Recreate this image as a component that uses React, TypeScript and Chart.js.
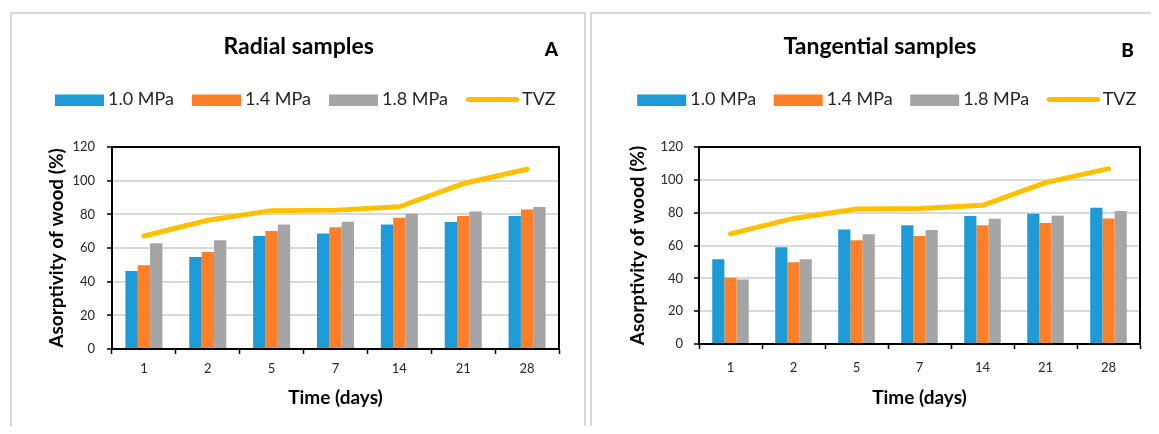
import React, { useEffect, useRef } from 'react';
import { Chart, registerables } from 'chart.js';

Chart.register(...registerables);

// ---- data ----
const days = ['1', '2', '5', '7', '14', '21', '28'];
const seriesNames = ['1.0 MPa', '1.4 MPa', '1.8 MPa', 'TVZ'];

const radial10 = [46.4, 54.7, 67.1, 68.6, 74.0, 75.4, 79.0];
const radial14 = [49.8, 57.6, 70.1, 72.4, 78.0, 79.0, 82.9];
const radial18 = [62.8, 64.6, 74.0, 75.6, 80.4, 81.7, 84.3];

const tangential10 = [51.6, 58.9, 69.8, 72.3, 77.9, 79.4, 83.0];
const tangential14 = [40.3, 49.8, 63.2, 65.8, 72.3, 73.7, 76.5];
const tangential18 = [39.3, 51.6, 66.8, 69.4, 76.3, 78.1, 81.0];

const tvzValues = [67.1, 76.5, 82.2, 82.5, 84.5, 98.3, 106.8];

const yMin = 0;
const yMax = 120;
const yStep = 20;

const COLORS = ['#1e9bd7', '#fd7f28', '#a5a5a5', '#ffc000'];
const FONT = 'Lato, "Open Sans", sans-serif';

type Geom = {
  w: number;
  h: number;
  pad: { top: number; left: number; right: number; bottom: number };
  yWidth: number;
  xHeight: number;
  yTickPad: number;
  xTickPad: number;
  yTitlePad: number;
  titleX: number;
  letterX: number;
  letterY: number;
  legendX: number;
  legendPitch: number;
};

function ChartPanel(props: {
  title: string;
  letter: string;
  bars: number[][];
  tvz: number[];
  geom: Geom;
}) {
  const ref = useRef<HTMLCanvasElement | null>(null);
  const { title, letter, bars, tvz, geom: g } = props;

  useEffect(() => {
    if (!ref.current) return;
    const overlay = {
      id: 'overlay',
      afterDraw(chart: any) {
        const ctx = chart.ctx as CanvasRenderingContext2D;
        const a = chart.chartArea;
        ctx.save();
        // plot area frame
        ctx.strokeStyle = '#000';
        ctx.lineWidth = 2;
        ctx.strokeRect(a.left, a.top, a.right - a.left, a.bottom - a.top);
        // title
        ctx.fillStyle = '#000';
        ctx.textBaseline = 'alphabetic';
        ctx.textAlign = 'center';
        ctx.font = `bold 23px ${FONT}`;
        ctx.fillText(title, g.titleX, 40);
        ctx.font = `900 19px ${FONT}`;
        ctx.fillText(letter, g.letterX, g.letterY);
        // legend
        ctx.textAlign = 'left';
        ctx.font = `18px ${FONT}`;
        const dsets = chart.data.datasets;
        for (let i = 0; i < dsets.length; i++) {
          const x = g.legendX + i * g.legendPitch;
          const ds = dsets[i];
          if (ds.type === 'line') {
            ctx.strokeStyle = ds.borderColor;
            ctx.lineWidth = 5;
            ctx.lineCap = 'round';
            ctx.beginPath();
            ctx.moveTo(x + 2.5, 85.5);
            ctx.lineTo(x + 51, 85.5);
            ctx.stroke();
            ctx.fillStyle = '#262626';
            ctx.fillText(ds.label, x + 56, 91);
          } else {
            ctx.fillStyle = ds.backgroundColor;
            ctx.fillRect(x, 80.5, 49, 11.5);
            ctx.fillStyle = '#262626';
            ctx.fillText(ds.label, x + 53, 91);
          }
        }
        ctx.restore();
      },
    };

    const chart = new Chart(ref.current, {
      type: 'bar',
      data: {
        labels: days,
        datasets: [
          ...bars.map((vals, i) => ({
            type: 'bar' as const,
            label: seriesNames[i],
            data: vals,
            backgroundColor: COLORS[i],
            borderWidth: 0,
            categoryPercentage: 0.58,
            barPercentage: 1.0,
            order: 1,
          })),
          {
            type: 'line' as const,
            label: seriesNames[3],
            data: tvz,
            borderColor: COLORS[3],
            backgroundColor: COLORS[3],
            borderWidth: 5,
            borderCapStyle: 'round',
            borderJoinStyle: 'round',
            pointRadius: 0,
            tension: 0,
            fill: false,
            order: 0,
          } as any,
        ],
      },
      options: {
        animation: false,
        responsive: false,
        maintainAspectRatio: false,
        layout: { padding: g.pad },
        plugins: {
          legend: { display: false },
          title: { display: false },
          tooltip: { enabled: false },
        },
        scales: {
          x: {
            offset: true,
            grid: {
              offset: true,
              drawOnChartArea: false,
              drawTicks: true,
              tickLength: 5,
              tickColor: '#000',
              tickWidth: 1.5,
            },
            border: { display: true, color: '#000', width: 2 },
            ticks: {
              color: '#262626',
              padding: g.xTickPad,
              font: { family: FONT, size: 13 },
              maxRotation: 0,
            },
            title: {
              display: true,
              text: 'Time (days)',
              color: '#000',
              font: { family: FONT, size: 19, weight: 'bold' },
              padding: { top: 0, bottom: 0 },
            },
            afterFit: (s: any) => {
              s.height = g.xHeight;
            },
          },
          y: {
            min: yMin,
            max: yMax,
            ticks: {
              stepSize: yStep,
              color: '#262626',
              padding: g.yTickPad,
              font: { family: FONT, size: 13 },
            },
            grid: {
              color: '#d9d9d9',
              lineWidth: 2,
              drawTicks: true,
              tickLength: 5,
              tickColor: '#000',
              tickWidth: 1.5,
            },
            border: { display: true, color: '#000', width: 2 },
            title: {
              display: true,
              text: 'Asorptivity of wood (%)',
              color: '#000',
              font: { family: FONT, size: 19, weight: 'bold' },
              padding: { top: g.yTitlePad, bottom: 0 },
            },
            afterFit: (s: any) => {
              s.width = g.yWidth;
            },
          },
        },
      },
      plugins: [overlay],
    });
    return () => chart.destroy();
  }, []);

  return (
    <canvas
      ref={ref}
      width={g.w}
      height={g.h}
      style={{ position: 'absolute', left: 0, top: 0, width: g.w, height: g.h }}
    />
  );
}

const geomA: Geom = {
  w: 572,
  h: 420,
  pad: { top: 133, left: 30, right: 25, bottom: 25 },
  yWidth: 70,
  xHeight: 60,
  yTickPad: 12,
  xTickPad: 7,
  yTitlePad: 3,
  titleX: 286.7,
  letterX: 539.5,
  letterY: 42,
  legendX: 43,
  legendPitch: 137,
};

const geomB: Geom = {
  w: 563,
  h: 420,
  pad: { top: 133, left: 34, right: 15, bottom: 25 },
  yWidth: 73,
  xHeight: 65,
  yTickPad: 11,
  xTickPad: 11,
  yTitlePad: 0,
  titleX: 288,
  letterX: 535.5,
  letterY: 43,
  legendX: 45.2,
  legendPitch: 136.5,
};

const boxStyle = (left: number, width: number): React.CSSProperties => ({
  position: 'absolute',
  left,
  top: 12,
  width,
  height: 440,
  boxSizing: 'border-box',
  border: '2px solid #d9d9d9',
  background: '#fff',
});

export default function App() {
  return (
    <div
      style={{
        position: 'relative',
        margin: -8,
        width: 1159,
        height: 434,
        overflow: 'hidden',
        background: '#fff',
      }}
    >
      <div style={boxStyle(10, 576)}>
        <ChartPanel
          title="Radial samples"
          letter="A"
          bars={[radial10, radial14, radial18]}
          tvz={tvzValues}
          geom={geomA}
        />
      </div>
      <div style={boxStyle(590, 567)}>
        <ChartPanel
          title="Tangential samples"
          letter="B"
          bars={[tangential10, tangential14, tangential18]}
          tvz={tvzValues}
          geom={geomB}
        />
      </div>
    </div>
  );
}
